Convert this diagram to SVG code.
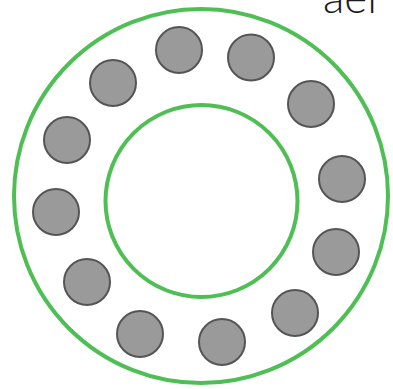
<svg xmlns="http://www.w3.org/2000/svg" width="393" height="389" viewBox="0 0 393 389">
<style>
.ring{fill:none;stroke:#4fbf55;stroke-width:4}
.ball{fill:#9a9a9a;stroke:#555;stroke-width:2}
.lbl{font-family:Lato,"Noto Sans",sans-serif;font-size:44px;font-weight:300;fill:#1a1a1a}
</style>
<rect width="393" height="389" fill="#fff"/>
<g id="outer"><circle class="ring" cx="201" cy="196" r="187"/></g>
<g id="inner"><circle class="ring" cx="201.5" cy="201" r="96"/></g>
<g id="balls">
<circle class="ball" cx="179" cy="50" r="23"/>
<circle class="ball" cx="251" cy="57.5" r="23"/>
<circle class="ball" cx="311" cy="104" r="23"/>
<circle class="ball" cx="342" cy="179" r="23"/>
<circle class="ball" cx="336" cy="252" r="23"/>
<circle class="ball" cx="295" cy="313" r="23"/>
<circle class="ball" cx="222" cy="342" r="23"/>
<circle class="ball" cx="140" cy="334" r="23"/>
<circle class="ball" cx="87" cy="282" r="23"/>
<circle class="ball" cx="56" cy="212" r="23"/>
<circle class="ball" cx="67" cy="140" r="23"/>
<circle class="ball" cx="113" cy="83" r="23"/>
</g>
<g id="label"><text class="lbl" x="323" y="12.5">ael</text></g>
<g id="connectors"/>
</svg>
